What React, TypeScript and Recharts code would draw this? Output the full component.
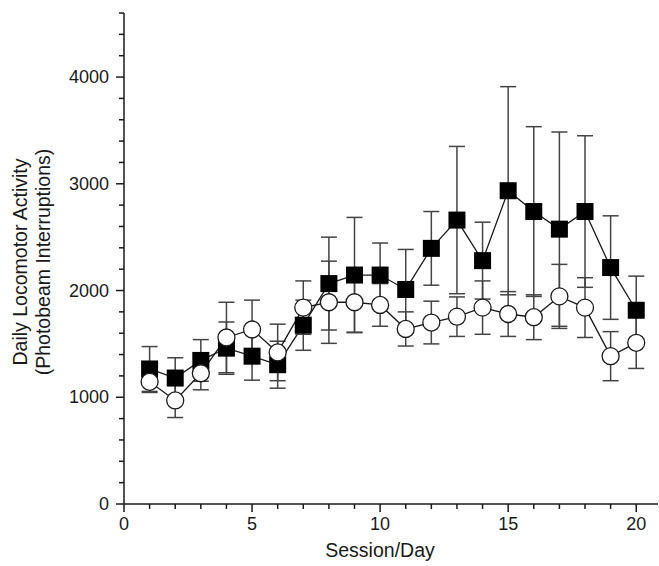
import {
  ComposedChart,
  Line,
  XAxis,
  YAxis,
  ErrorBar,
  Label,
} from "recharts";

const days = [1, 2, 3, 4, 5, 6, 7, 8, 9, 10, 11, 12, 13, 14, 15, 16, 17, 18, 19, 20];

// filled squares
const squareMean = [1265, 1180, 1345, 1460, 1385, 1305, 1675, 2065, 2145, 2145, 2010, 2395, 2660, 2280, 2935, 2740, 2575, 2740, 2215, 1815];
const squareSem = [210, 190, 195, 245, 225, 220, 235, 435, 540, 300, 375, 345, 690, 360, 975, 795, 910, 710, 485, 320];

// open circles
const circleMean = [1145, 970, 1225, 1560, 1635, 1420, 1840, 1890, 1890, 1865, 1640, 1700, 1755, 1840, 1780, 1750, 1945, 1840, 1385, 1510];
const circleSem = [100, 160, 155, 330, 275, 265, 250, 385, 280, 200, 160, 200, 185, 250, 210, 210, 300, 280, 230, 240];

const xTicks = [0, 1, 2, 3, 4, 5, 6, 7, 8, 9, 10, 11, 12, 13, 14, 15, 16, 17, 18, 19, 20];
const yTicks = [0, 200, 400, 600, 800, 1000, 1200, 1400, 1600, 1800, 2000, 2200, 2400, 2600, 2800, 3000, 3200, 3400, 3600, 3800, 4000, 4200, 4400, 4600];

const FONT = "'Liberation Sans', Arial, Helvetica, sans-serif";
const INK = "#1a1a1a";

const rows = days.map((d, i) => ({
  day: d,
  sq: squareMean[i],
  sqErr: squareSem[i],
  ci: circleMean[i],
  ciErr: circleSem[i],
}));

function YTick(props: any) {
  const { x, y, payload } = props;
  const major = payload.value % 1000 === 0;
  return (
    <g>
      <line x1={x - (major ? 8 : 5)} x2={x} y1={y} y2={y} stroke={INK} strokeWidth={1.5} />
      {major && (
        <text x={x - 15} y={y} textAnchor="end" dominantBaseline="central" fontSize={18} fontFamily={FONT} fill={INK}>
          {payload.value}
        </text>
      )}
    </g>
  );
}

function XTick(props: any) {
  const { x, y, payload } = props;
  const major = payload.value % 5 === 0;
  return (
    <g>
      <line x1={x} x2={x} y1={y} y2={y + (major ? 8 : 5)} stroke={INK} strokeWidth={1.5} />
      {major && (
        <text x={x} y={y + 20} textAnchor="middle" dominantBaseline="central" fontSize={18} fontFamily={FONT} fill={INK}>
          {payload.value}
        </text>
      )}
    </g>
  );
}

function SquareDot(props: any) {
  const { cx, cy } = props;
  return <rect x={cx - 8.5} y={cy - 8.5} width={17} height={17} fill="#000" />;
}

function CircleDot(props: any) {
  const { cx, cy } = props;
  return <circle cx={cx} cy={cy} r={8.5} fill="#fff" stroke={INK} strokeWidth={1.3} />;
}

export default function App() {
  return (
    <div style={{ position: "absolute", left: 0, top: 0, background: "#fff" }}>
      <ComposedChart
        width={659}
        height={566}
        data={rows}
        margin={{ top: 13, right: 1, bottom: 0, left: 0 }}
      >
        <XAxis
          dataKey="day"
          type="number"
          domain={[0, 20.85]}
          ticks={xTicks}
          allowDataOverflow
          height={62}
          tickSize={0}
          tickMargin={0}
          tickLine={false}
          tick={<XTick />}
          axisLine={{ stroke: INK, strokeWidth: 1.5 }}
        >
          <Label
            content={() => (
              <text x={380} y={550} textAnchor="middle" dominantBaseline="central" fontSize={19.5} fontFamily={FONT} fill={INK}>
                Session/Day
              </text>
            )}
          />
        </XAxis>
        <YAxis
          type="number"
          domain={[0, 4600]}
          ticks={yTicks}
          interval={0}
          width={124}
          tickSize={0}
          tickMargin={0}
          tickLine={false}
          tick={<YTick />}
          axisLine={{ stroke: INK, strokeWidth: 1.5 }}
        >
          <Label
            content={() => (
              <g fontSize={19.5} fontFamily={FONT} fill={INK}>
                <text x={20} y={262} textAnchor="middle" dominantBaseline="central" transform="rotate(-90 20 262)">
                  Daily Locomotor Activity
                </text>
                <text x={43} y={262} textAnchor="middle" dominantBaseline="central" transform="rotate(-90 43 262)">
                  (Photobeam Interruptions)
                </text>
              </g>
            )}
          />
        </YAxis>
        <Line
          dataKey="sq"
          stroke={INK}
          strokeWidth={1.3}
          dot={<SquareDot />}
          activeDot={false}
          isAnimationActive={false}
        >
          <ErrorBar dataKey="sqErr" direction="y" width={8} stroke="#444" strokeWidth={1.5} isAnimationActive={false} />
        </Line>
        <Line
          dataKey="ci"
          stroke={INK}
          strokeWidth={1.3}
          dot={<CircleDot />}
          activeDot={false}
          isAnimationActive={false}
        >
          <ErrorBar dataKey="ciErr" direction="y" width={8} stroke="#444" strokeWidth={1.5} isAnimationActive={false} />
        </Line>
      </ComposedChart>
    </div>
  );
}
